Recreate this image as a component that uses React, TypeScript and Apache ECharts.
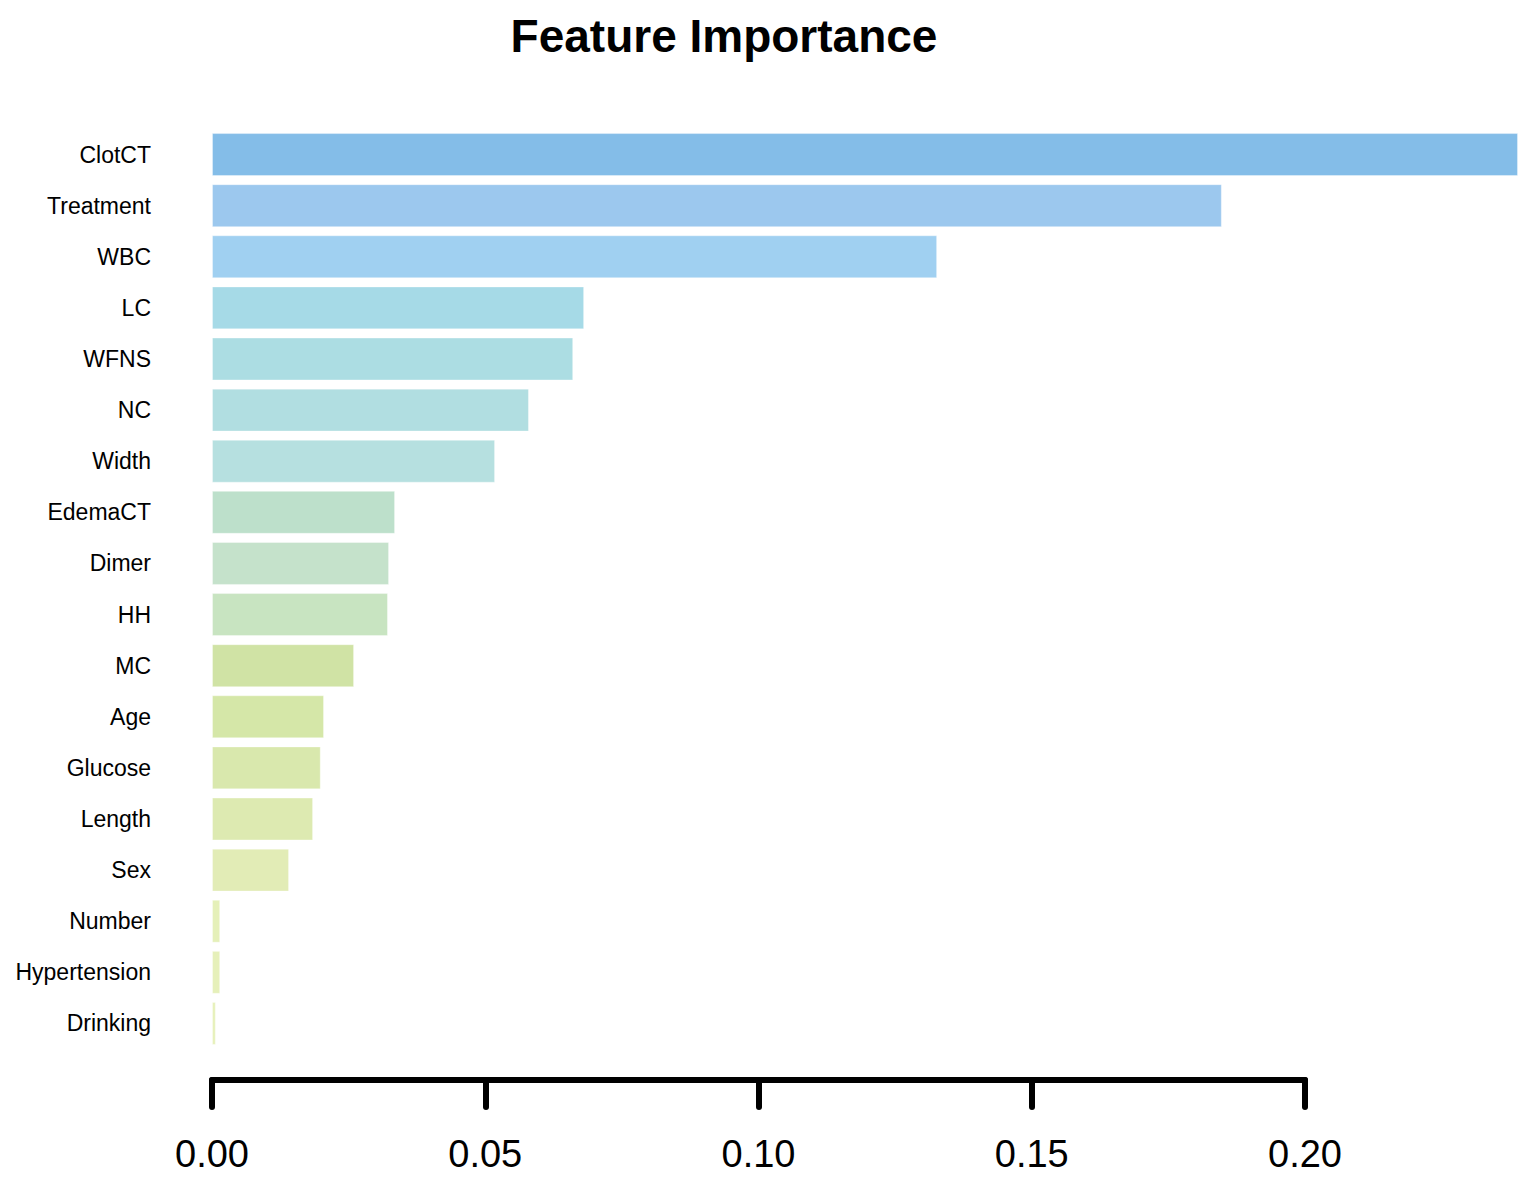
import React, { useEffect, useRef } from "react";
import * as echarts from "echarts";

const categories = [
  "ClotCT", "Treatment", "WBC", "LC", "WFNS", "NC", "Width", "EdemaCT", "Dimer",
  "HH", "MC", "Age", "Glucose", "Length", "Sex", "Number", "Hypertension", "Drinking",
];
const importance = [
  0.239, 0.1848, 0.1327, 0.0681, 0.0661, 0.058, 0.0518, 0.0335, 0.0324,
  0.0322, 0.026, 0.0205, 0.0199, 0.0185, 0.0141, 0.0015, 0.0015, 0.0007,
];
const barColors = [
  "#84BDE8", "#9CC8EE", "#A0D0F1", "#A6DAE7", "#ACDDE3", "#B1DEE1", "#B6E0E0",
  "#BDE0CB", "#C5E2CB", "#C8E4C1", "#D0E3A5", "#D5E7A8", "#D9E8AD", "#DDEAB1",
  "#E2ECB6", "#E5F0B9", "#E6F0BA", "#E7F1BB",
];
const axisTicks = [0, 0.05, 0.1, 0.15, 0.2];

const PX_PER_UNIT = 5465;
const FONT = "'Liberation Sans', Arial, Helvetica, sans-serif";

export default function App() {
  const ref = useRef<HTMLDivElement>(null);
  useEffect(() => {
    if (!ref.current) return;
    const chart = echarts.init(ref.current, undefined, { renderer: "svg" });
    const barMax = importance[0];
    const axisMax = axisTicks[axisTicks.length - 1];
    chart.setOption({
      animation: false,
      backgroundColor: "#ffffff",
      title: {
        text: "Feature Importance",
        left: 711,
        top: 0,
        textAlign: "center",
        textStyle: { fontFamily: FONT, fontSize: 46, fontWeight: "bold", color: "#000" },
      },
      grid: [
        { left: 204, top: 121, width: Math.round(barMax * PX_PER_UNIT), height: 920 },
        { left: 204, top: 1071, width: Math.round(axisMax * PX_PER_UNIT), height: 1 },
      ],
      xAxis: [
        { gridIndex: 0, type: "value", min: 0, max: barMax, show: false },
        {
          gridIndex: 1,
          type: "value",
          min: 0,
          max: axisMax,
          interval: 0.05,
          position: "bottom",
          axisLine: { onZero: false, lineStyle: { color: "#000", width: 6, cap: "round" } },
          axisTick: { length: 27, lineStyle: { color: "#000", width: 6, cap: "round" } },
          axisLabel: {
            fontFamily: FONT,
            fontSize: 38,
            color: "#000",
            margin: 55,
            formatter: (v: number) => v.toFixed(2),
          },
          splitLine: { show: false },
        },
      ],
      yAxis: [
        {
          gridIndex: 0,
          type: "category",
          inverse: true,
          data: categories,
          axisLine: { show: false },
          axisTick: { show: false },
          axisLabel: { fontFamily: FONT, fontSize: 23, color: "#000", margin: 61 },
        },
        { gridIndex: 1, type: "value", show: false },
      ],
      series: [
        {
          type: "bar",
          xAxisIndex: 0,
          yAxisIndex: 0,
          barCategoryGap: "16%",
          data: importance.map((v, i) => ({
            value: v,
            itemStyle: { color: barColors[i], borderColor: "rgba(255,255,255,0.35)", borderWidth: 1 },
          })),
        },
        { type: "line", xAxisIndex: 1, yAxisIndex: 1, data: [], silent: true },
      ],
    });
    return () => chart.dispose();
  }, []);
  return <div ref={ref} style={{ width: 1520, height: 1168 }} />;
}
